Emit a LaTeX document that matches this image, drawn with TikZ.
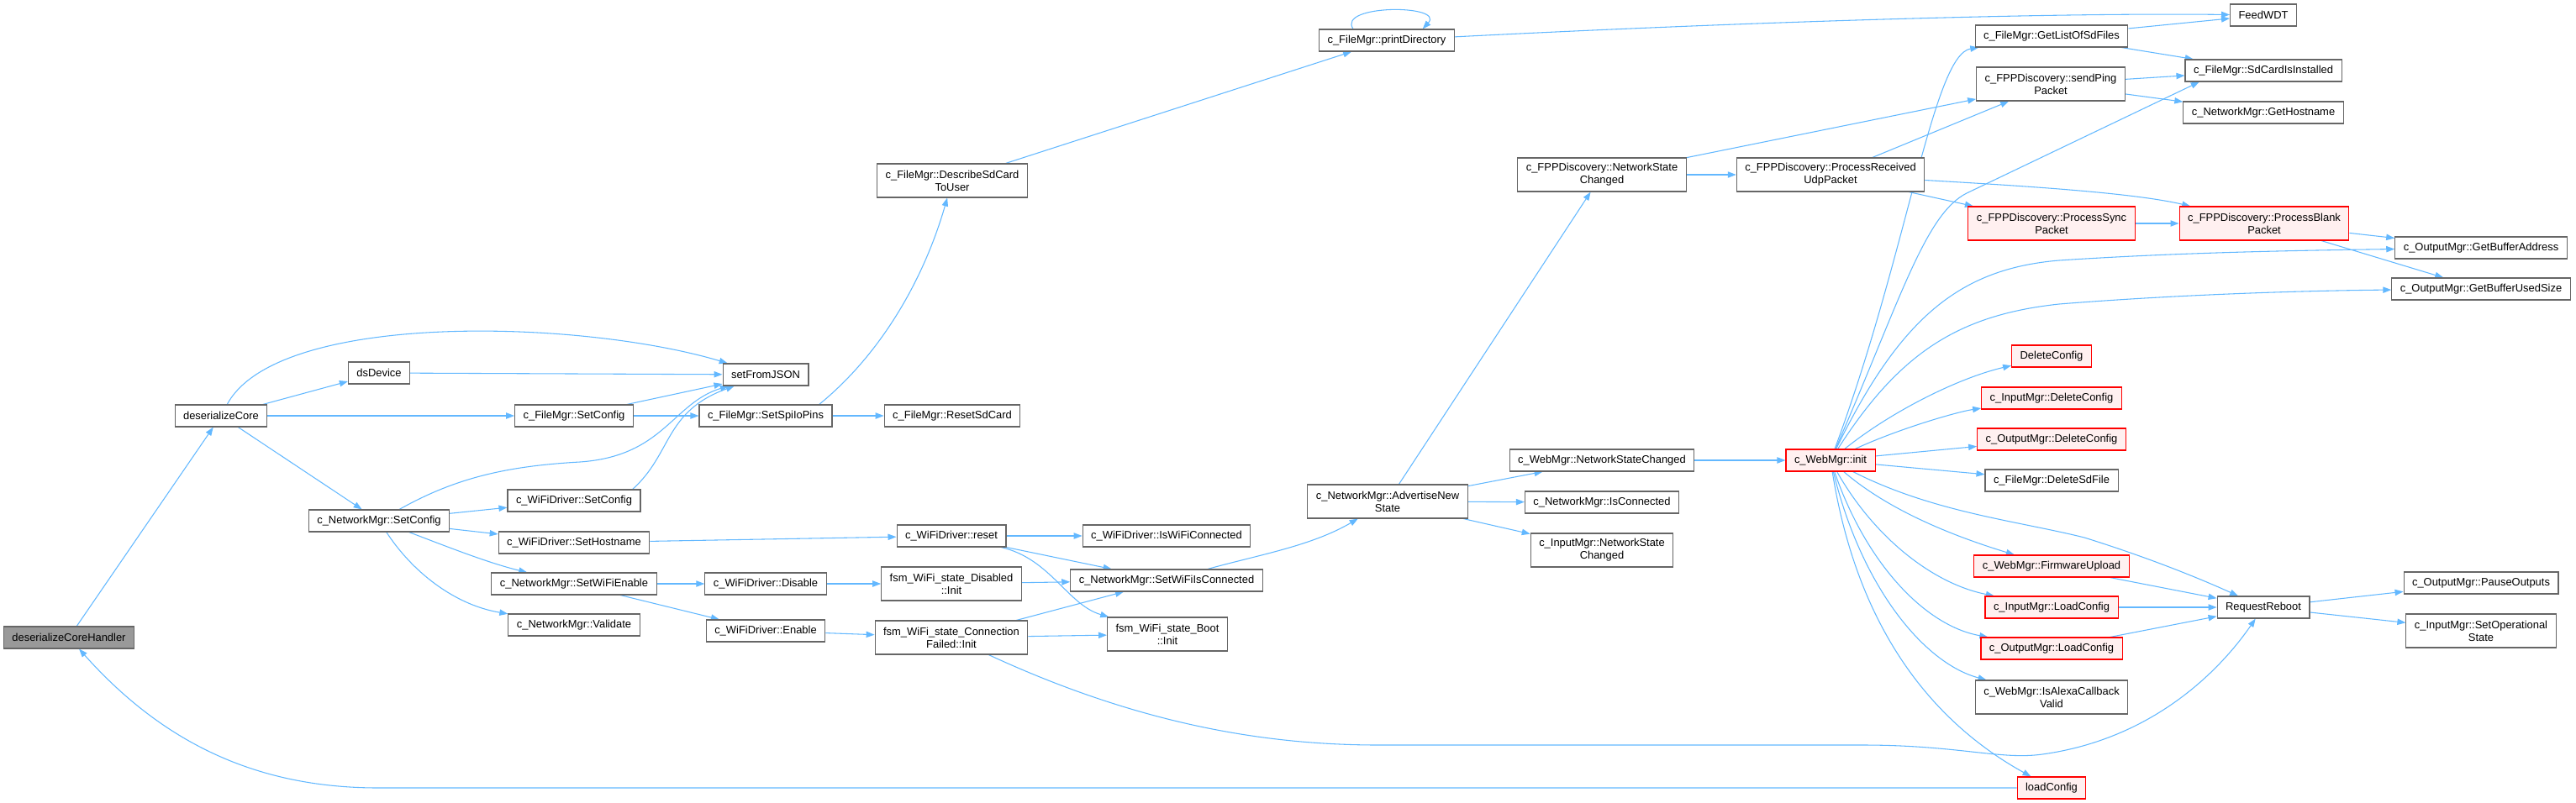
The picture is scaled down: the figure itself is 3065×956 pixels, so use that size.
\documentclass[tikz,border=0pt]{standalone}
\usepackage{fontspec}
\setmainfont{Liberation Sans}
\usetikzlibrary{arrows.meta, backgrounds}

\definecolor{edgeblue}{HTML}{63B8FF}
\definecolor{boxline}{HTML}{666666}
\definecolor{rootfill}{HTML}{999999}
\definecolor{truncline}{HTML}{FF0000}
\definecolor{truncfill}{HTML}{FFF0F0}

\begin{document}
\begin{tikzpicture}[x=0.75pt, y=-0.75pt,
    fn/.style={draw=boxline, fill=white, line width=0.8pt, align=center,
        font=\fontsize{9.7pt}{11.25pt}\selectfont,
        inner xsep=7.5pt, inner ysep=2pt, minimum height=19.5pt},
    fnroot/.style={fn, fill=rootfill},
    fntrunc/.style={fn, draw=truncline, fill=truncfill},
    tall/.style={minimum height=30pt},
    call/.style={draw=edgeblue, line width=0.8pt,
        -{Triangle[length=7.5pt, width=5.5pt]}}]

    \useasboundingbox (0,0) rectangle (3065,956);

    % --- 1. caller and first ranks ---
    \node[fnroot] (handler) at (82,759) {deserializeCoreHandler};
    \node[fn] (core) at (263,495) {deserializeCore};
    \node[fn] (dsdev) at (451,444) {dsDevice};
    \node[fn] (nmSetCfg) at (451,620) {c\_NetworkMgr::SetConfig};

    % --- 2. config handlers ---
    \node[fn] (fmSetCfg) at (683,495) {c\_FileMgr::SetConfig};
    \node[fn] (wdSetCfg) at (683,596) {c\_WiFiDriver::SetConfig};
    \node[fn] (wdSetHost) at (683,646) {c\_WiFiDriver::SetHostname};
    \node[fn] (nmSetEnable) at (683,695) {c\_NetworkMgr::SetWiFiEnable};
    \node[fn] (nmValidate) at (683,744) {c\_NetworkMgr::Validate};

    \node[fn] (fromJson) at (911,446) {setFromJSON};
    \node[fn] (fmSpiPins) at (911,495) {c\_FileMgr::SetSpiIoPins};
    \node[fn] (wdDisable) at (911,695) {c\_WiFiDriver::Disable};
    \node[fn] (wdEnable) at (911,751) {c\_WiFiDriver::Enable};

    % --- 3. file manager / wifi state machine ---
    \node[fn, tall] (fmDescribe) at (1133,215) {c\_FileMgr::DescribeSdCard\\ToUser};
    \node[fn] (fmReset) at (1133,495) {c\_FileMgr::ResetSdCard};
    \node[fn] (wdReset) at (1132,638) {c\_WiFiDriver::reset};
    \node[fn, tall] (stDisabled) at (1132,695) {fsm\_WiFi\_state\_Disabled\\::Init};
    \node[fn, tall] (stFailed) at (1132,759) {fsm\_WiFi\_state\_Connection\\Failed::Init};

    \node[fn] (wdIsConn) at (1388,638) {c\_WiFiDriver::IsWiFiConnected};
    \node[fn] (nmSetConn) at (1388,691) {c\_NetworkMgr::SetWiFiIsConnected};
    \node[fn, tall] (stBoot) at (1389,755) {fsm\_WiFi\_state\_Boot\\::Init};

    \node[fn] (fmPrintDir) at (1650,48) {c\_FileMgr::printDirectory};
    \node[fn, tall] (nmAdvertise) at (1651,597) {c\_NetworkMgr::AdvertiseNew\\State};

    % --- 4. network state listeners ---
    \node[fn, tall] (fppNetState) at (1906,208) {c\_FPPDiscovery::NetworkState\\Changed};
    \node[fn] (wmNetState) at (1906,548) {c\_WebMgr::NetworkStateChanged};
    \node[fn] (nmIsConn) at (1906,598) {c\_NetworkMgr::IsConnected};
    \node[fn, tall] (imNetState) at (1906,655) {c\_InputMgr::NetworkState\\Changed};

    \node[fn, tall] (fppRecv) at (2178,208) {c\_FPPDiscovery::ProcessReceived\\UdpPacket};
    \node[fntrunc] (wmInit) at (2178,548) {c\_WebMgr::init};

    % --- 5. leaves on the right ---
    \node[fn] (fmListSd) at (2441,43) {c\_FileMgr::GetListOfSdFiles};
    \node[fn, tall] (fppPing) at (2440,100) {c\_FPPDiscovery::sendPing\\Packet};
    \node[fntrunc, tall] (fppSync) at (2441,266) {c\_FPPDiscovery::ProcessSync\\Packet};
    \node[fntrunc] (delCfg) at (2441,424) {DeleteConfig};
    \node[fntrunc] (imDelCfg) at (2441,474) {c\_InputMgr::DeleteConfig};
    \node[fntrunc] (omDelCfg) at (2441,523) {c\_OutputMgr::DeleteConfig};
    \node[fn] (fmDelSd) at (2441,572) {c\_FileMgr::DeleteSdFile};
    \node[fntrunc] (wmFirmware) at (2441,674) {c\_WebMgr::FirmwareUpload};
    \node[fntrunc] (imLoadCfg) at (2441,723) {c\_InputMgr::LoadConfig};
    \node[fntrunc] (omLoadCfg) at (2441,772) {c\_OutputMgr::LoadConfig};
    \node[fn, tall] (wmAlexa) at (2441,830) {c\_WebMgr::IsAlexaCallback\\Valid};
    \node[fntrunc] (loadCfg) at (2441,938) {loadConfig};

    \node[fn] (feedWdt) at (2693,18) {FeedWDT};
    \node[fn] (fmSdIn) at (2693,84) {c\_FileMgr::SdCardIsInstalled};
    \node[fn] (nmHost) at (2693,134) {c\_NetworkMgr::GetHostname};
    \node[fntrunc, tall] (fppBlank) at (2694,266) {c\_FPPDiscovery::ProcessBlank\\Packet};
    \node[fn] (reboot) at (2693,723) {RequestReboot};

    \node[fn] (omBufAddr) at (2952,295) {c\_OutputMgr::GetBufferAddress};
    \node[fn] (omBufSize) at (2952,344) {c\_OutputMgr::GetBufferUsedSize};
    \node[fn] (omPause) at (2952,694) {c\_OutputMgr::PauseOutputs};
    \node[fn, tall] (imOpState) at (2952,751) {c\_InputMgr::SetOperational\\State};

    % --- 6. calls (under the boxes) ---
    \begin{scope}[on background layer]
    \draw[call] (handler) -- (core);
    \draw[call] (loadCfg) -- (450,938) .. controls (300,938) and (190,880) .. (handler);

    \draw[call] (core) .. controls (330,370) and (690,380) .. (fromJson);
    \draw[call] (core) -- (dsdev);
    \draw[call] (core) -- (fmSetCfg);
    \draw[call] (core) -- (nmSetCfg);
    \draw[call] (dsdev) -- (fromJson);

    \draw[call] (fmSetCfg) -- (fromJson);
    \draw[call] (fmSetCfg) -- (fmSpiPins);
    \draw[call] (fmSpiPins) -- (fmReset);
    \draw[call] (fmSpiPins.12) .. controls (1050,420) and (1100,330) .. (fmDescribe);
    \draw[call] (fmDescribe) -- (fmPrintDir);
    \draw[call] ([xshift=-30pt]fmPrintDir.north) .. controls (1590,5) and (1720,5) .. ([xshift=32pt]fmPrintDir.north); % recursion
    \draw[call] (fmPrintDir) .. controls (2100,25) and (2450,15) .. (feedWdt);

    \draw[call] (nmSetCfg) .. controls (540,570) and (600,555) .. (690,550) .. controls (790,543) and (800,480) .. (fromJson);
    \draw[call] (nmSetCfg) -- (wdSetCfg);
    \draw[call] (nmSetCfg) -- (wdSetHost);
    \draw[call] (nmSetCfg) .. controls (530,650) and (580,670) .. (nmSetEnable);
    \draw[call] (nmSetCfg) .. controls (490,680) and (540,720) .. (nmValidate);
    \draw[call] (wdSetCfg.11) .. controls (800,540) and (790,490) .. (fromJson);

    \draw[call] (wdSetHost) -- (wdReset);
    \draw[call] (nmSetEnable) -- (wdDisable);
    \draw[call] (nmSetEnable) -- (wdEnable);
    \draw[call] (wdDisable) -- (stDisabled);
    \draw[call] (wdEnable) -- (stFailed);
    \draw[call] (wdReset) -- (wdIsConn);
    \draw[call] (wdReset) -- (nmSetConn);
    \draw[call] (wdReset) .. controls (1250,665) and (1270,720) .. (stBoot);
    \draw[call] (stDisabled) -- (nmSetConn);
    \draw[call] (stFailed) -- (nmSetConn);
    \draw[call] (stFailed) -- (stBoot);
    \draw[call] (stFailed) .. controls (1350,860) and (1500,887) .. (1640,887) -- (2216,887)
        .. controls (2330,887) and (2380,905) .. (2430,898) .. controls (2560,880) and (2640,800) .. (reboot);

    \draw[call] (nmSetConn) .. controls (1500,660) and (1560,650) .. (nmAdvertise);
    \draw[call] (nmAdvertise) -- (fppNetState);
    \draw[call] (nmAdvertise) -- (wmNetState);
    \draw[call] (nmAdvertise) -- (nmIsConn);
    \draw[call] (nmAdvertise) -- (imNetState);
    \draw[call] (wmNetState) -- (wmInit);

    \draw[call] (fppNetState) -- (fppPing);
    \draw[call] (fppNetState) -- (fppRecv);
    \draw[call] (fppRecv) -- (fppPing);
    \draw[call] (fppRecv) -- (fppSync);
    \draw[call] (fppRecv) .. controls (2420,222) and (2540,230) .. (fppBlank);
    \draw[call] (fppSync) -- (fppBlank);
    \draw[call] (fppBlank) -- (omBufAddr);
    \draw[call] (fppBlank) -- (omBufSize);
    \draw[call] (fppPing) -- (fmSdIn);
    \draw[call] (fppPing) -- (nmHost);
    \draw[call] (fmListSd) -- (feedWdt);
    \draw[call] (fmListSd) -- (fmSdIn);

    % fan out of c_WebMgr::init
    \draw[call] (wmInit) .. controls (2270,300) and (2300,65) .. (fmListSd);
    \draw[call] (wmInit) .. controls (2260,360) and (2290,255) .. (2340,230) -- ([xshift=13pt]fmSdIn.south west);
    \draw[call] (wmInit) .. controls (2260,380) and (2330,320) .. (2450,310) .. controls (2600,300) and (2750,298) .. (omBufAddr);
    \draw[call] (wmInit) .. controls (2260,420) and (2330,375) .. (2450,362) .. controls (2600,350) and (2750,346) .. (omBufSize);
    \draw[call] (wmInit) .. controls (2250,490) and (2330,450) .. (delCfg);
    \draw[call] (wmInit) .. controls (2260,510) and (2330,490) .. (imDelCfg);
    \draw[call] (wmInit) -- (omDelCfg);
    \draw[call] (wmInit) -- (fmDelSd);
    \draw[call] (wmInit) .. controls (2300,610) and (2400,620) .. (2480,640) .. controls (2560,665) and (2620,690) .. (reboot);
    \draw[call] (wmInit) .. controls (2250,610) and (2330,640) .. (wmFirmware);
    \draw[call] (wmInit) .. controls (2230,640) and (2300,695) .. (imLoadCfg);
    \draw[call] (wmInit) .. controls (2220,670) and (2290,745) .. (omLoadCfg);
    \draw[call] (wmInit) .. controls (2215,700) and (2290,790) .. (wmAlexa);
    \draw[call] (wmInit) .. controls (2210,750) and (2300,860) .. (loadCfg);

    \draw[call] (wmFirmware) -- (reboot);
    \draw[call] (imLoadCfg) -- (reboot);
    \draw[call] (omLoadCfg) -- (reboot);
    \draw[call] (reboot) -- (omPause);
    \draw[call] (reboot) -- (imOpState);
    \end{scope}

\end{tikzpicture}
\end{document}
